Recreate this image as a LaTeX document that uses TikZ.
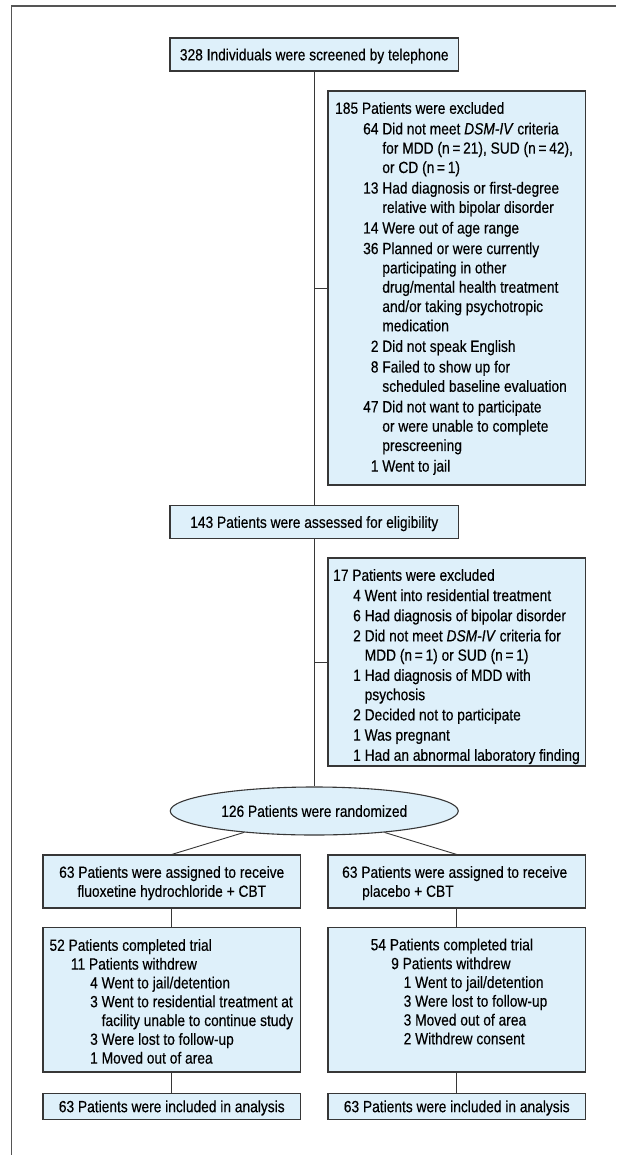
\documentclass[tikz,border=0pt]{standalone}
\usepackage{fontspec}
\setmainfont{Liberation Sans}[FakeStretch=0.85,FakeBold=0.35]
\usetikzlibrary{shapes.geometric}
\definecolor{boxfill}{RGB}{222,240,250}
\definecolor{boxline}{RGB}{55,55,55}
\definecolor{frameline}{RGB}{85,85,85}
\newcommand{\fsz}[1]{\fontsize{16.2pt}{#1pt}\selectfont}
\newcommand{\indA}{\hspace*{28pt}}
\newcommand{\indB}{\hspace*{20pt}}
\tikzset{
  box/.style={draw=boxline, fill=boxfill, line width=1.1pt, rectangle, inner sep=0pt,
              text height=11.7pt, text depth=0pt, font=\fsz{19.5}},
  oval/.style={box, ellipse},
  txt/.style={inner sep=0pt, anchor=base west},
  link/.style={draw=boxline, line width=0.9pt},
}
\begin{document}
\begin{tikzpicture}[x=1pt,y=-1pt]
\useasboundingbox (0,0) rectangle (616,1155);
\draw[frameline, line width=1.6pt] (11.5,1155) -- (11.5,6) -- (616,6);

% main column
\node[box, minimum width=288.5pt, minimum height=33pt] (screen) at (314.25,54.5)
  {328 Individuals were screened by telephone};
\node[box, minimum width=257.5pt, minimum height=394pt] (excl1) at (456.75,288) {};
\node[txt, font=\fsz{19.3}] (excl1t) at (335,113.8) {\begin{tabular}[t]{@{}l@{}}
185 Patients were excluded\\[1.3pt]
\indA 64 Did not meet \textit{DSM-IV} criteria\\
\indA\phantom{64 }for MDD (n\,=\,21), SUD (n\,=\,42),\\
\indA\phantom{64 }or CD (n\,=\,1)\\[1.3pt]
\indA 13 Had diagnosis or first-degree\\
\indA\phantom{13 }relative with bipolar disorder\\[1.3pt]
\indA 14 Were out of age range\\[1.3pt]
\indA 36 Planned or were currently\\
\indA\phantom{36 }participating in other\\
\indA\phantom{36 }drug/mental health treatment\\
\indA\phantom{36 }and/or taking psychotropic\\
\indA\phantom{36 }medication\\[1.3pt]
\indA\phantom{1}2 Did not speak English\\[1.3pt]
\indA\phantom{1}8 Failed to show up for\\
\indA\phantom{36 }scheduled baseline evaluation\\[1.3pt]
\indA 47 Did not want to participate\\
\indA\phantom{47 }or were unable to complete\\
\indA\phantom{47 }prescreening\\[1.3pt]
\indA\phantom{1}1 Went to jail
\end{tabular}};

\node[box, minimum width=288.5pt, minimum height=32.5pt] (elig) at (314.25,522)
  {143 Patients were assessed for eligibility};
\node[box, minimum width=257.5pt, minimum height=208pt] (excl2) at (456.75,662) {};
\node[txt, font=\fsz{19.3}] (excl2t) at (333,580.8) {\begin{tabular}[t]{@{}l@{}}
17 Patients were excluded\\[0.9pt]
\indB 4 Went into residential treatment\\[0.9pt]
\indB 6 Had diagnosis of bipolar disorder\\[0.9pt]
\indB 2 Did not meet \textit{DSM-IV} criteria for\\
\indB\phantom{2 }MDD (n\,=\,1) or SUD (n\,=\,1)\\[0.9pt]
\indB 1 Had diagnosis of MDD with\\
\indB\phantom{1 }psychosis\\[0.9pt]
\indB 2 Decided not to participate\\[0.9pt]
\indB 1 Was pregnant\\[0.9pt]
\indB 1 Had an abnormal laboratory finding
\end{tabular}};

\node[oval, minimum width=288pt, minimum height=48pt] (rand) at (314.25,811)
  {126 Patients were randomized};

% arms
\node[box, minimum width=257.5pt, minimum height=53pt] (arm1) at (171.75,881.5) {};
\node[txt, anchor=base, font=\fsz{19}] (arm1t) at (171.75,877.8) {\begin{tabular}[t]{@{}c@{}}
63 Patients were assigned to receive\\
fluoxetine hydrochloride + CBT
\end{tabular}};
\node[box, minimum width=257.5pt, minimum height=53pt] (arm2) at (456.75,881.5) {};
\node[txt, font=\fsz{19}] (arm2t) at (342,877.8) {\begin{tabular}[t]{@{}l@{}}
63 Patients were assigned to receive\\
\hspace*{20pt}placebo + CBT
\end{tabular}};

\node[box, minimum width=257.5pt, minimum height=144.5pt] (comp1) at (171.75,999.75) {};
\node[txt, font=\fsz{18.8}] (comp1t) at (49.3,950.8) {\begin{tabular}[t]{@{}l@{}}
52 Patients completed trial\\
\hspace*{21.4pt}11 Patients withdrew\\
\hspace*{40.7pt}4 Went to jail/detention\\
\hspace*{40.7pt}3 Went to residential treatment at\\
\hspace*{40.7pt}\phantom{3 }facility unable to continue study\\
\hspace*{40.7pt}3 Were lost to follow-up\\
\hspace*{40.7pt}1 Moved out of area
\end{tabular}};
\node[box, minimum width=257.5pt, minimum height=144.5pt] (comp2) at (456.75,999.75) {};
\node[txt, font=\fsz{18.8}] (comp2t) at (370.5,950.3) {\begin{tabular}[t]{@{}l@{}}
54 Patients completed trial\\
\hspace*{20.5pt}9 Patients withdrew\\
\hspace*{33pt}1 Went to jail/detention\\
\hspace*{33pt}3 Were lost to follow-up\\
\hspace*{33pt}3 Moved out of area\\
\hspace*{33pt}2 Withdrew consent
\end{tabular}};

\node[box, minimum width=257.5pt, minimum height=26pt] (anal1) at (171.75,1106.3)
  {63 Patients were included in analysis};
\node[box, minimum width=257.5pt, minimum height=26pt] (anal2) at (456.75,1106.3)
  {63 Patients were included in analysis};

% connectors
\draw[link] (screen.south) -- (elig.north);
\draw[link] (screen.south |- excl1.west) -- (excl1.west);
\draw[link] (elig.south) -- (rand.north);
\draw[link] (elig.south |- excl2.west) -- (excl2.west);
\draw[link] (rand) -- (arm1.north);
\draw[link] (rand) -- (arm2.north);
\draw[link] (arm1.south) -- (comp1.north);
\draw[link] (arm2.south) -- (comp2.north);
\draw[link] (comp1.south) -- (anal1.north);
\draw[link] (comp2.south) -- (anal2.north);
\end{tikzpicture}
\end{document}
